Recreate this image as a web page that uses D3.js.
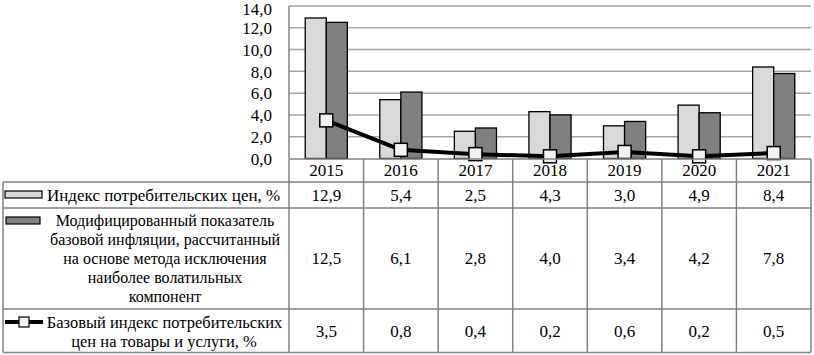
<!DOCTYPE html>
<html><head><meta charset="utf-8">
<script src="https://cdn.jsdelivr.net/npm/d3@7"></script>
<style>body{margin:0;background:#fff}svg{display:block}svg text{font-family:"Liberation Serif","DejaVu Serif","Times New Roman",serif}</style>
</head><body>
<script>
const years = ["2015","2016","2017","2018","2019","2020","2021"];
const cpi = [12.9, 5.4, 2.5, 4.3, 3.0, 4.9, 8.4];
const modCore = [12.5, 6.1, 2.8, 4.0, 3.4, 4.2, 7.8];
const coreCpi = [3.5, 0.8, 0.4, 0.2, 0.6, 0.2, 0.5];
const yTicks = [0, 2, 4, 6, 8, 10, 12, 14];
const seriesNames = [
  ["Индекс потребительских цен, %"],
  ["Модифицированный показатель", "базовой инфляции, рассчитанный", "на основе метода исключения", "наиболее волатильных", "компонент"],
  ["Базовый индекс потребительских", "цен на товары и услуги, %"]
];

const W = 814, H = 355;
const FS = 17;
const fmt = v => v.toFixed(1).replace(".", ",");

const svg = d3.select("body").append("svg").attr("width", W).attr("height", H);

const plotL = 289, plotR = 811, plotT = 6, plotB = 158.5;
const x = d3.scaleBand().domain(years).range([plotL, plotR]).paddingInner(0).paddingOuter(0);
const y = d3.scaleLinear().domain([0, 14]).range([plotB, plotT]);
const xs = d3.scaleBand().domain(["cpi","mod"]).range([0, x.bandwidth()]).paddingOuter(0.77).paddingInner(0);

// gridlines
svg.append("g").selectAll("line").data(yTicks.filter(d => d > 0)).join("line")
  .attr("x1", plotL).attr("x2", plotR)
  .attr("y1", d => y(d)).attr("y2", d => y(d))
  .attr("stroke", "#a6a6a6").attr("stroke-width", 1.5);

// y axis labels
const yAxis = d3.axisLeft(y).tickValues(yTicks).tickFormat(fmt).tickSize(0).tickPadding(0);
const yg = svg.append("g").attr("transform", `translate(272,0)`).call(yAxis);
yg.attr("font-family", null).attr("font-size", null);
yg.select(".domain").remove();
yg.selectAll("text").attr("font-size", FS).attr("fill", "#000").attr("dy", "0.34em")
  .attr("y", d => d === 14 ? 2.5 : 0);

// bars
const barG = svg.append("g");
years.forEach((yr, i) => {
  barG.append("rect").attr("x", x(yr) + xs("cpi")).attr("width", xs.bandwidth())
    .attr("y", y(cpi[i])).attr("height", y(0) - y(cpi[i]))
    .attr("fill", "#d9d9d9").attr("stroke", "#000").attr("stroke-width", 1.3);
  barG.append("rect").attr("x", x(yr) + xs("mod")).attr("width", xs.bandwidth())
    .attr("y", y(modCore[i])).attr("height", y(0) - y(modCore[i]))
    .attr("fill", "#808080").attr("stroke", "#000").attr("stroke-width", 1.3);
});

// left axis line
svg.append("line").attr("x1", plotL).attr("x2", plotL).attr("y1", plotT).attr("y2", plotB)
  .attr("stroke", "#808080").attr("stroke-width", 1.5);

// line series
const line = d3.line().x((d, i) => x(years[i]) + x.bandwidth() / 2).y(d => y(d));
svg.append("path").datum(coreCpi).attr("d", line).attr("fill", "none")
  .attr("stroke", "#000").attr("stroke-width", 4).attr("stroke-linejoin", "round");
const ms = 13;
svg.append("g").selectAll("rect").data(coreCpi).join("rect")
  .attr("x", (d, i) => x(years[i]) + x.bandwidth() / 2 - ms / 2)
  .attr("y", d => y(d) - ms / 2).attr("width", ms).attr("height", ms)
  .attr("fill", "#f2f2f2").attr("stroke", "#000").attr("stroke-width", 1.5);

// table
const tLeft = 3;
const tg = svg.append("g");
const gridC = "#808080";
tg.append("line").attr("x1", plotL).attr("x2", plotR).attr("y1", plotB + 0.5).attr("y2", plotB + 0.5).attr("stroke", gridC).attr("stroke-width", 1.5);
[182, 208, 309, 352.5].forEach(yy => tg.append("line").attr("x1", tLeft).attr("x2", plotR).attr("y1", yy).attr("y2", yy).attr("stroke", gridC).attr("stroke-width", 1.5));
tg.append("line").attr("x1", tLeft).attr("x2", tLeft).attr("y1", 182).attr("y2", 352.5).attr("stroke", gridC).attr("stroke-width", 1.5);
years.forEach(yr => tg.append("line").attr("x1", x(yr)).attr("x2", x(yr)).attr("y1", 159).attr("y2", 352.5).attr("stroke", gridC).attr("stroke-width", 1.5));
tg.append("line").attr("x1", plotR).attr("x2", plotR).attr("y1", 159).attr("y2", 352.5).attr("stroke", gridC).attr("stroke-width", 1.5);

// header years
tg.selectAll("text.yr").data(years).join("text").attr("class", "yr")
  .attr("x", d => x(d) + x.bandwidth() / 2).attr("y", 170.5).attr("dy", "0.34em")
  .attr("text-anchor", "middle").attr("font-size", FS).text(d => d);

// values
const rowCenters = [195, 258.5, 331];
[cpi, modCore, coreCpi].forEach((arr, r) => {
  tg.selectAll(`text.v${r}`).data(arr).join("text").attr("class", `v${r}`)
    .attr("x", (d, i) => x(years[i]) + x.bandwidth() / 2).attr("y", rowCenters[r]).attr("dy", "0.34em")
    .attr("text-anchor", "middle").attr("font-size", FS).text(fmt);
});

// legend keys
tg.append("rect").attr("x", 5).attr("y", 191).attr("width", 37).attr("height", 7)
  .attr("fill", "#d9d9d9").attr("stroke", "#000").attr("stroke-width", 1.2);
tg.append("rect").attr("x", 6).attr("y", 217).attr("width", 34).attr("height", 7)
  .attr("fill", "#808080").attr("stroke", "#000").attr("stroke-width", 1.2);
tg.append("line").attr("x1", 5).attr("x2", 43).attr("y1", 322).attr("y2", 322)
  .attr("stroke", "#000").attr("stroke-width", 4);
tg.append("rect").attr("x", 19).attr("y", 317).attr("width", 10).attr("height", 10)
  .attr("fill", "#f2f2f2").attr("stroke", "#000").attr("stroke-width", 1.2);

// legend texts
tg.append("text").attr("x", 47).attr("y", 195).attr("dy", "0.34em").attr("font-size", FS).text(seriesNames[0][0]);
const l2y = [221, 240, 259, 278, 297];
seriesNames[1].forEach((t, i) => tg.append("text").attr("x", 165).attr("y", l2y[i]).attr("dy", "0.34em")
  .attr("text-anchor", "middle").attr("font-size", 16).text(t));
const l3y = [322, 341];
seriesNames[2].forEach((t, i) => tg.append("text").attr("x", i === 0 ? 164.5 : 164).attr("y", l3y[i]).attr("dy", "0.34em")
  .attr("text-anchor", "middle").attr("font-size", 16.5).text(t));
</script>
</body></html>
